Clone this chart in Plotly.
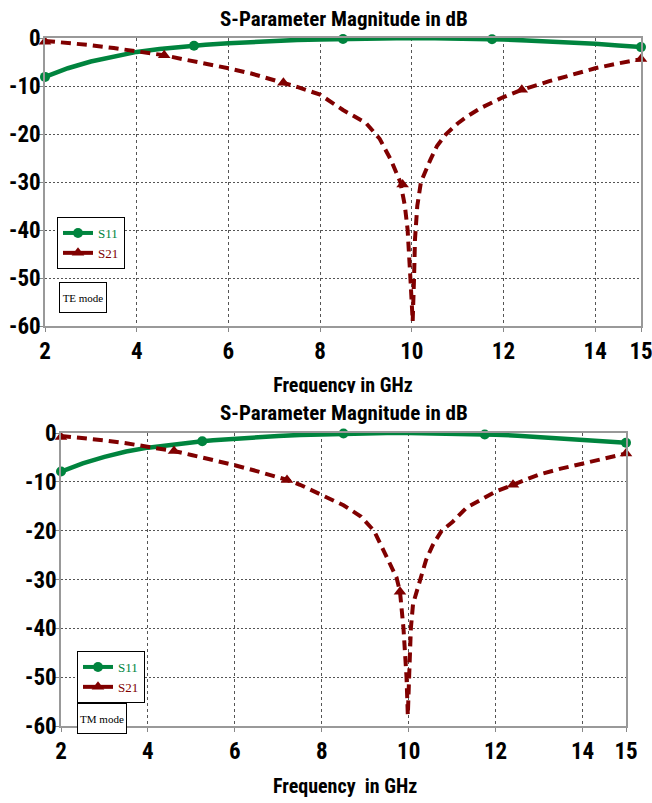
import plotly.graph_objects as go

# ---------------- data ----------------
te_s11_f = [2, 2.5, 3, 3.5, 4, 4.5, 5, 5.25, 5.5, 6, 6.5, 7, 7.5, 8, 8.5, 9, 9.5, 10,
            10.5, 11, 11.5, 11.75, 12, 12.5, 13, 13.5, 14, 14.5, 15]
te_s11_v = [-8.1, -6.3, -4.9, -3.8, -2.9, -2.3, -1.8, -1.6, -1.4, -1.1, -0.8, -0.6, -0.4,
            -0.3, -0.2, -0.1, -0.05, 0, -0.05, -0.1, -0.2, -0.25, -0.3, -0.5, -0.7, -0.95,
            -1.2, -1.55, -1.9]
te_s11_mf = [2, 5.25, 8.5, 11.75, 15]
te_s11_mv = [-8.1, -1.6, -0.2, -0.25, -1.9]

te_s21_f = [2, 2.5, 3, 3.5, 4, 4.6, 5, 5.5, 6, 6.5, 7, 7.2, 7.5, 8, 8.5, 9, 9.3, 9.55,
            9.75, 9.85, 9.91, 9.97, 10.02, 10.05, 10.07, 10.12, 10.2, 10.4, 10.55, 10.75,
            11, 11.2, 11.5, 12, 12.4, 13, 13.5, 14, 14.5, 15]
te_s21_v = [-0.6, -1.0, -1.5, -2.1, -2.7, -3.6, -4.4, -5.3, -6.3, -7.4, -8.7, -9.3, -10.2,
            -11.8, -15.0, -17.7, -21.0, -25.5, -30, -35, -40, -50, -59, -50, -42, -35, -30,
            -25.5, -22.5, -20, -17.8, -16.4, -14.6, -12.3, -10.8, -9.0, -7.6, -6.3, -5.3, -4.4]
te_s21_mf = [2, 4.6, 7.2, 9.8, 12.4, 15]
te_s21_mv = [-0.8, -3.6, -9.3, -30.5, -10.8, -4.4]

tm_s11_f = te_s11_f
tm_s11_v = [-7.9, -6.2, -4.9, -3.8, -3.0, -2.4, -1.9, -1.7, -1.5, -1.15, -0.85, -0.6, -0.4,
            -0.25, -0.1, -0.05, 0, 0, -0.05, -0.1, -0.2, -0.3, -0.35, -0.55, -0.8, -1.05,
            -1.3, -1.65, -2.0]
tm_s11_mf = [2, 5.25, 8.5, 11.75, 15]
tm_s11_mv = [-7.9, -1.7, -0.1, -0.3, -2.0]

tm_s21_f = [2, 2.5, 3, 3.5, 4, 4.6, 5, 5.5, 6, 6.5, 7, 7.2, 7.5, 8, 8.5, 8.9, 9.2, 9.5,
            9.72, 9.8, 9.88, 9.95, 9.98, 10.01, 10.05, 10.1, 10.18, 10.25, 10.4, 10.55,
            10.76, 11, 11.33, 12, 12.4, 13, 13.5, 14, 14.5, 15]
tm_s21_v = [-0.6, -1.0, -1.5, -2.1, -2.8, -3.7, -4.5, -5.5, -6.6, -7.8, -9.1, -9.6, -10.6,
            -12.6, -14.8, -17.1, -20, -25.5, -29.6, -32.5, -40, -50, -57.8, -50, -40, -35,
            -32.5, -30, -26, -23, -20, -18.3, -15.3, -12, -10.6, -8.5, -7.3, -6.3, -5.4, -4.2]
tm_s21_mf = [2, 4.6, 7.2, 9.8, 12.4, 15]
tm_s21_mv = [-0.8, -3.7, -9.6, -32.5, -10.6, -4.2]

x_ticks = [2, 4, 6, 8, 10, 12, 14, 15]
x_tick_labels = ["2", "4", "6", "8", "10", "12", "14", "15"]
y_ticks = [0, -10, -20, -30, -40, -50, -60]
y_tick_labels = ["0", "-10", "-20", "-30", "-40", "-50", "-60"]

title_text = "S-Parameter Magnitude in dB"
xtitle_top = "Frequency in GHz"
xtitle_bottom = "Frequency\u00a0 in GHz"

# ---------------- style ----------------
GREEN = "rgb(0,132,62)"
RED = "rgb(128,0,0)"
COND = "Roboto Condensed, Open Sans Condensed, sans-serif"
SERIF = "Liberation Serif, Times New Roman, serif"
W, H = 652, 803


def px_x(p):
    return p / W


def px_y(p):
    return 1 - p / H


fig = go.Figure()


def add_panel(xa, ya, s11f, s11v, s11mf, s11mv, s21f, s21v, s21mf, s21mv, legend):
    fig.add_trace(go.Scatter(x=s11f, y=s11v, mode="lines", xaxis=xa, yaxis=ya,
                             line=dict(color=GREEN, width=4.5), showlegend=False,
                             cliponaxis=False))
    fig.add_trace(go.Scatter(x=s21f, y=s21v, mode="lines", xaxis=xa, yaxis=ya,
                             line=dict(color=RED, width=4, dash="10px,6px"),
                             showlegend=False, cliponaxis=False))
    fig.add_trace(go.Scatter(x=s11mf, y=s11mv, mode="markers", xaxis=xa, yaxis=ya,
                             marker=dict(color=GREEN, size=10, symbol="circle"),
                             showlegend=False, cliponaxis=False))
    fig.add_trace(go.Scatter(x=s21mf, y=s21mv, mode="markers", xaxis=xa, yaxis=ya,
                             marker=dict(color=RED, size=11, symbol="triangle-up"),
                             showlegend=False, cliponaxis=False))
    fig.add_trace(go.Scatter(x=[None], y=[None], mode="lines+markers", xaxis=xa, yaxis=ya,
                             name=f"<span style='color:{GREEN}'>S11</span>",
                             line=dict(color=GREEN, width=4),
                             marker=dict(color=GREEN, size=10, symbol="circle"),
                             legend=legend))
    fig.add_trace(go.Scatter(x=[None], y=[None], mode="lines+markers", xaxis=xa, yaxis=ya,
                             name=f"<span style='color:{RED}'>S21</span>",
                             line=dict(color=RED, width=4),
                             marker=dict(color=RED, size=11, symbol="triangle-up"),
                             legend=legend))


add_panel("x", "y", te_s11_f, te_s11_v, te_s11_mf, te_s11_mv,
          te_s21_f, te_s21_v, te_s21_mf, te_s21_mv, "legend")
add_panel("x2", "y2", tm_s11_f, tm_s11_v, tm_s11_mf, tm_s11_mv,
          tm_s21_f, tm_s21_v, tm_s21_mf, tm_s21_mv, "legend2")

title_font = dict(family=COND, size=21, color="black", weight="bold")
xtitle_font = dict(family=COND, size=20, color="black", weight="bold")

# clipped x-axis title of the upper panel (partly hidden by lower panel)
fig.add_trace(go.Scatter(x=[px_x(343)], y=[0.24], mode="text", text=[xtitle_top],
                         textposition="middle center", xaxis="x3", yaxis="y3",
                         textfont=xtitle_font,
                         showlegend=False, cliponaxis=True, hoverinfo="skip"))

tickfont = dict(family=COND, size=23, color="black", weight="bold")


def xax(domain, anchor):
    return dict(domain=domain, range=[2, 15], tickvals=x_ticks, ticktext=x_tick_labels,
                ticks="outside", ticklen=4, tickcolor="#888", showline=True,
                linecolor="#999", linewidth=1.5, mirror=True, showgrid=True,
                gridcolor="#555", griddash="3px,3px", gridwidth=1, zeroline=False,
                tickfont=tickfont, fixedrange=True, automargin=False, anchor=anchor,
                ticklabeloverflow="allow")


def yax(domain, anchor):
    return dict(domain=domain, range=[-60, 0], tickvals=y_ticks, ticktext=y_tick_labels,
                ticks="outside", ticklen=4, tickcolor="#888", showline=True,
                linecolor="#999", linewidth=1.5, mirror=True, showgrid=True,
                gridcolor="#555", griddash="2px,2px", gridwidth=1, zeroline=False,
                tickfont=tickfont, anchor=anchor, fixedrange=True, automargin=False,
                ticklabelstandoff=-6, ticklabeloverflow="allow")


box_font = dict(family=SERIF, size=11, color="black")

annotations = [
    dict(text=title_text, x=px_x(344), y=px_y(19), xref="paper", yref="paper",
         xanchor="center", yanchor="middle", showarrow=False, font=title_font),
    dict(text=title_text, x=px_x(344), y=px_y(413), xref="paper", yref="paper",
         xanchor="center", yanchor="middle", showarrow=False, font=title_font),
    dict(text=xtitle_bottom, x=px_x(345), y=px_y(786), xref="paper", yref="paper",
         xanchor="center", yanchor="middle", showarrow=False, font=xtitle_font),
    dict(text="TE mode", x=px_x(82.5), y=px_y(298), xref="paper", yref="paper",
         xanchor="center", yanchor="middle", showarrow=False, font=box_font,
         bordercolor="black", borderwidth=1, bgcolor="white", width=44, height=27,
         borderpad=1),
    dict(text="TM mode", x=px_x(101.5), y=px_y(718), xref="paper", yref="paper",
         xanchor="center", yanchor="middle", showarrow=False, font=box_font,
         bordercolor="black", borderwidth=1, bgcolor="white", width=46, height=27,
         borderpad=1),
]

legend_common = dict(xref="paper", yref="paper", xanchor="left", yanchor="top",
                     bgcolor="white", bordercolor="black", borderwidth=1,
                     font=dict(family=SERIF, size=13), itemwidth=30, tracegroupgap=0)

fig.update_layout(
    width=W, height=H, autosize=False,
    margin=dict(l=0, r=0, t=0, b=0),
    paper_bgcolor="white", plot_bgcolor="white",
    xaxis=xax([px_x(45), px_x(641)], "y"), yaxis=yax([px_y(326), px_y(38)], "x"),
    xaxis2=xax([px_x(61), px_x(626)], "y2"), yaxis2=yax([px_y(726), px_y(433)], "x2"),
    xaxis3=dict(domain=[0, 1], range=[0, 1], visible=False, fixedrange=True),
    yaxis3=dict(domain=[px_y(393), px_y(368)], range=[0, 1], visible=False,
                anchor="x3", fixedrange=True),
    annotations=annotations,
    legend=dict(x=px_x(57), y=px_y(217), **legend_common),
    legend2=dict(x=px_x(77), y=px_y(651), **legend_common),
    showlegend=True,
)

fig.write_html("out.html", config={"displayModeBar": False},
               post_script="document.body.style.margin='0';")
